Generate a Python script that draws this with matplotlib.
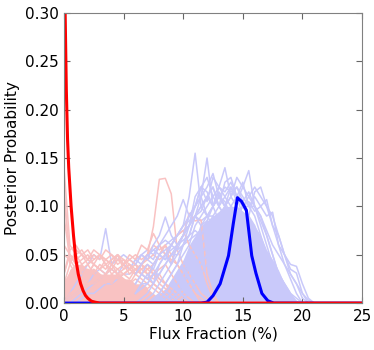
import numpy as np
import matplotlib
matplotlib.use('Agg')
import matplotlib.pyplot as plt

# Grids the thin posterior samples are read on (flux fraction, %)
red_x = np.arange(0, 13.01, 0.5)    # 27 points
blue_x = np.arange(6, 21.01, 0.5)   # 31 points

# Light red posterior samples (on red_x)
r01 = [.02, .03, .04, .035, .03, .04, .035, .03, .04, .03, .035, .04, .03, .04, .05, .079, .128, .129, .113, .055, .04, .03, .02, .01, .005, 0, 0]
r02 = [.03, .05, .045, .05, .04, .045, .05, .04, .035, .045, .04, .05, .045, .06, .055, .072, .06, .05, .045, .04, .03, .02, .01, 0, 0, 0, 0]
r03 = [0, .01, .015, .02, .02, .025, .02, .03, .025, .03, .03, .035, .03, .04, .035, .04, .05, .06, .04, .06, .07, .093, .085, .086, .03, .01, 0]
r04 = [.14, .06, .05, .055, .045, .04, .05, .045, .04, .035, .04, .03, .035, .03, .025, .02, .015, .01, .005, 0, 0, 0, 0, 0, 0, 0, 0]
r05 = [.11, .05, .04, .045, .05, .04, .035, .045, .05, .04, .045, .035, .04, .03, .035, .03, .025, .02, .01, .005, 0, 0, 0, 0, 0, 0, 0]
r06 = [.02, .04, .055, .05, .045, .055, .05, .045, .04, .05, .045, .04, .035, .04, .03, .025, .03, .02, .015, .01, .005, 0, 0, 0, 0, 0, 0]
r07 = [.01, .02, .03, .035, .04, .03, .04, .035, .045, .05, .04, .045, .05, .045, .05, .06, .055, .06, .05, .04, .03, .02, .01, .005, 0, 0, 0]
r08 = [.06, .05, .04, .03, .035, .03, .025, .03, .035, .03, .025, .02, .025, .02, .015, .02, .015, .01, .005, 0, 0, 0, 0, 0, 0, 0, 0]
r09 = [0, .005, .01, .015, .02, .02, .025, .02, .03, .025, .03, .035, .03, .04, .045, .05, .045, .05, .06, .07, .075, .06, .05, .04, .02, .005, 0]
r10 = [.09, .045, .05, .04, .045, .05, .045, .055, .05, .045, .04, .045, .04, .035, .03, .035, .025, .02, .015, .01, 0, 0, 0, 0, 0, 0, 0]
r11 = [.05, .045, .035, .04, .03, .04, .035, .04, .03, .035, .03, .025, .035, .03, .025, .03, .02, .015, .01, .005, 0, 0, 0, 0, 0, 0, 0]
r12 = [.03, .055, .06, .05, .055, .045, .05, .04, .045, .05, .035, .04, .03, .035, .04, .03, .035, .04, .03, .02, .01, .005, 0, 0, 0, 0, 0]
r13 = [.12, .04, .03, .025, .03, .035, .03, .025, .02, .03, .025, .02, .03, .025, .02, .015, .01, .005, 0, 0, 0, 0, 0, 0, 0, 0, 0]
red_core = [.02, .035, .04, .04, .035, .035, .03, .03, .03, .03, .025, .025, .02, .02, .015, .01, .005, 0, 0, 0, 0, 0, 0, 0, 0, 0, 0]

# Light blue samples that spread to low flux (on red_x)
w01 = [0, .01, .02, .03, .04, .05, .045, .077, .04, .05, .04, .035, .045, .04, .05, .055, .06, .05, .055, .06, .065, .07, .075, .07, .06, .05, .04]
w02 = [0, 0, .005, .01, .015, .02, .025, .03, .035, .03, .04, .035, .045, .05, .055, .05, .06, .065, .06, .07, .08, .085, .09, .08, .085, .08, .07]
w03 = [0, 0, 0, .005, .01, .01, .015, .02, .02, .025, .03, .03, .035, .04, .05, .055, .05, .06, .065, .07, .075, .08, .09, .085, .09, .09, .085]
w04 = [0, .005, .01, .015, .02, .03, .035, .03, .04, .045, .05, .045, .04, .05, .045, .04, .05, .045, .05, .055, .06, .065, .07, .075, .08, .085, .08]

# Light blue posterior samples (on blue_x)
b01 = [.02, .03, .025, .04, .05, .045, .06, .07, .08, .11, .155, .10, .09, .10, .085, .09, .07, .06, .05, .04, .03, .02, .01, .005, 0, 0, 0, 0, 0, 0, 0]
b02 = [.01, .02, .03, .02, .04, .05, .04, .06, .07, .08, .09, .11, .15, .10, .11, .10, .09, .08, .07, .05, .035, .02, .01, 0, 0, 0, 0, 0, 0, 0, 0]
b03 = [0, 0, 0, 0, .005, .01, .02, .03, .04, .05, .06, .07, .08, .09, .10, .11, .12, .105, .12, .137, .10, .08, .06, .04, .02, .01, 0, 0, 0, 0, 0]
b04 = [0, 0, 0, 0, 0, 0, 0, .005, .01, .02, .03, .04, .05, .06, .07, .08, .085, .09, .10, .105, .095, .10, .09, .094, .06, .04, .03, .02, .01, .003, 0]
b05 = [0, 0, 0, 0, 0, 0, .005, .01, .015, .02, .03, .04, .05, .06, .07, .08, .09, .095, .10, .10, .11, .10, .107, .08, .06, .05, .035, .031, .01, 0, 0]
b06 = [0, .005, .01, .02, .03, .04, .05, .06, .07, .09, .10, .11, .12, .134, .11, .10, .09, .08, .07, .05, .04, .02, .01, 0, 0, 0, 0, 0, 0, 0, 0]
b07 = [.03, .04, .05, .045, .06, .07, .08, .09, .107, .09, .10, .11, .09, .08, .08, .07, .06, .05, .04, .02, .01, 0, 0, 0, 0, 0, 0, 0, 0, 0, 0]
b08 = [.04, .05, .045, .06, .07, .089, .07, .06, .07, .08, .09, .10, .11, .12, .10, .09, .08, .07, .05, .03, .02, .01, 0, 0, 0, 0, 0, 0, 0, 0, 0]
b09 = [0, 0, 0, 0, 0, .005, .01, .02, .03, .04, .05, .06, .07, .08, .09, .10, .11, .13, .12, .11, .10, .09, .07, .05, .03, .02, .01, 0, 0, 0, 0]
b10 = [0, 0, 0, 0, .01, .02, .03, .04, .05, .06, .08, .09, .10, .11, .12, .115, .125, .11, .10, .09, .08, .06, .04, .02, .01, 0, 0, 0, 0, 0, 0]
b11 = [0, 0, 0, 0, 0, 0, 0, 0, .005, .01, .02, .03, .04, .05, .06, .07, .08, .09, .10, .11, .12, .11, .10, .09, .07, .05, .04, .038, .02, .005, 0]
b12 = [.01, .02, .02, .03, .03, .04, .05, .05, .06, .07, .09, .10, .11, .10, .12, .14, .11, .10, .09, .07, .05, .03, .02, .01, 0, 0, 0, 0, 0, 0, 0]
b13 = [0, 0, 0, 0, 0, 0, .005, .01, .02, .03, .04, .05, .06, .07, .08, .09, .10, .11, .10, .09, .115, .12, .10, .08, .07, .05, .03, .02, .005, 0, 0]
b14 = [.02, .03, .04, .035, .05, .055, .06, .07, .08, .09, .10, .12, .13, .11, .10, .09, .08, .07, .06, .05, .03, .02, .01, 0, 0, 0, 0, 0, 0, 0, 0]
b15 = [0, 0, 0, 0, 0, .005, .01, .02, .03, .05, .06, .08, .09, .10, .115, .10, .12, .11, .125, .10, .09, .07, .05, .03, .015, .005, 0, 0, 0, 0, 0]
b16 = [0, 0, .005, .01, .02, .03, .04, .05, .06, .08, .10, .12, .105, .13, .12, .11, .10, .095, .08, .06, .045, .03, .015, .005, 0, 0, 0, 0, 0, 0, 0]
b17 = [0, 0, 0, 0, 0, 0, 0, .005, .01, .02, .035, .05, .06, .08, .09, .10, .11, .12, .105, .115, .10, .09, .075, .06, .05, .04, .025, .01, 0, 0, 0]
b18 = [.01, .015, .02, .03, .04, .05, .06, .055, .07, .08, .11, .12, .115, .10, .11, .105, .09, .08, .07, .06, .04, .02, .01, 0, 0, 0, 0, 0, 0, 0, 0]
b19 = [0, 0, 0, 0, 0, 0, .005, .01, .02, .04, .05, .07, .085, .10, .11, .12, .115, .12, .11, .10, .10, .085, .07, .05, .03, .02, .01, .005, 0, 0, 0]
b20 = [0, 0, 0, .005, .01, .02, .03, .04, .06, .07, .09, .095, .11, .12, .10, .125, .13, .11, .09, .08, .06, .045, .03, .02, .01, 0, 0, 0, 0, 0, 0]
blue_core = [0, 0, 0, .005, .01, .015, .025, .035, .045, .06, .07, .08, .085, .09, .095, .10, .10, .10, .095, .09, .08, .07, .055, .045, .034, .02, .01, .003, 0, 0, 0]

# Bold combined posteriors
red_fit_x = [0, 0.1, 0.2, 0.3, 0.4, 0.5, 0.6, 0.7, 0.8, 1.0, 1.2, 1.4, 1.6, 1.8, 2.0, 2.3, 2.6, 3.0, 25]
red_fit_y = [0.45, 0.30, 0.22, 0.17, 0.14, 0.12, 0.10, 0.085, 0.07, 0.045, 0.03, 0.02, 0.013, 0.008, 0.005, 0.002, 0.001, 0, 0]
blue_fit_x = [0, 11.5, 12.0, 12.5, 13.1, 13.8, 14.2, 14.55, 14.9, 15.3, 15.75, 16.1, 16.6, 17.1, 17.6, 25]
blue_fit_y = [0, 0, 0.001, 0.0076, 0.02, 0.049, 0.082, 0.109, 0.105, 0.096, 0.049, 0.031, 0.010, 0.0024, 0, 0]

light_red = '#f9c2c2'
light_blue = '#c9c9fa'

red_samples = [r01, r02, r03, r04, r05, r06, r07, r08, r09, r10, r11, r12, r13]
wide_blue = [w01, w02, w03, w04]
blue_samples = [b01, b02, b03, b04, b05, b06, b07, b08, b09, b10,
                b11, b12, b13, b14, b15, b16, b17, b18, b19, b20]

fig = plt.figure(figsize=(3.74, 3.5), dpi=100)
ax = fig.add_axes([0.171, 0.134, 0.797, 0.829])

ax.fill_between(red_x, 0, red_core, color=light_red, lw=0)
ax.fill_between(blue_x, 0, blue_core, color=light_blue, lw=0)
for w in wide_blue:
    ax.plot(red_x, w, color=light_blue, lw=1.1)
for r in red_samples:
    ax.plot(red_x, r, color=light_red, lw=1.1)
for b in blue_samples:
    ax.plot(blue_x, b, color=light_blue, lw=1.1)

ax.plot(blue_fit_x, blue_fit_y, color='#0000ff', lw=2.2)
ax.plot(red_fit_x, red_fit_y, color='#ff0000', lw=2.2)

ax.set_xlim(0, 25)
ax.set_ylim(0, 0.30)
ax.set_xticks([0, 5, 10, 15, 20, 25])
ax.set_yticks([0, 0.05, 0.10, 0.15, 0.20, 0.25, 0.30])
ax.set_yticklabels(['0.00', '0.05', '0.10', '0.15', '0.20', '0.25', '0.30'])
ax.tick_params(direction='in', top=True, right=True, length=4, color='#666666',
               labelsize=11, pad=4)
for s in ax.spines.values():
    s.set_color('#808080')
ax.set_xlabel('Flux Fraction (%)', fontsize=11, labelpad=2)
ax.set_ylabel('Posterior Probability', fontsize=11, labelpad=3)

fig.savefig('out.png', dpi=100)
